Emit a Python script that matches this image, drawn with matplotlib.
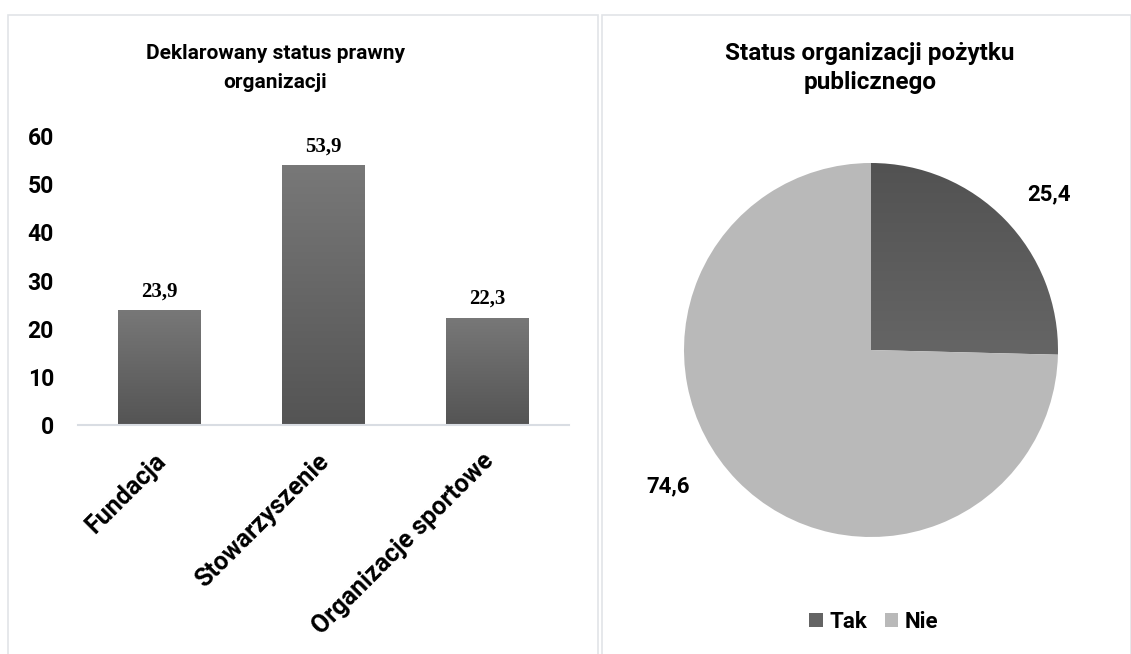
import numpy as np
import matplotlib
matplotlib.use("Agg")
import matplotlib.pyplot as plt
import matplotlib.transforms as mtransforms
from matplotlib.patches import Rectangle, Patch

plt.rcParams['font.family'] = ['Roboto', 'DejaVu Sans']

# data
bar_title = "Deklarowany status prawny\norganizacji"
bar_cats = ["Fundacja", "Stowarzyszenie", "Organizacje sportowe"]
bar_vals = [23.9, 53.9, 22.3]

pie_title = "Status organizacji pożytku\npublicznego"
pie_cats = ["Tak", "Nie"]
pie_vals = [25.4, 74.6]

W, H = 1131, 654
fig = plt.figure(figsize=(W / 100, H / 100), dpi=100)

# panel borders
for x0, x1 in [(8, 598), (602, 1131)]:
    fig.patches.append(Rectangle((x0 / W, -0.01), (x1 - x0) / W, (H - 15) / H + 0.01,
                                 transform=fig.transFigure, fill=False,
                                 edgecolor='#e1e4e8', linewidth=1.2))

def fmt(v):
    return f"{v:.1f}".replace('.', ',')

grad = np.linspace(0, 1, 256).reshape(-1, 1)

# ---- bar chart
ax = fig.add_axes([77.5 / W, (H - 425) / H, 491.5 / W, 289 / H])
x = np.arange(len(bar_cats))
bars = ax.bar(x, bar_vals, width=0.506, color='none', edgecolor='none')
for b in bars:
    bx, by, bw, bh = b.get_x(), b.get_y(), b.get_width(), b.get_height()
    im = ax.imshow(grad, cmap=matplotlib.colors.LinearSegmentedColormap.from_list(
        'g', ['#545454', '#787878']), origin='lower', aspect='auto',
        extent=(bx, bx + bw, by, by + bh), zorder=2)
    im.set_clip_path(b)
    ax.text(bx + bw / 2, bh + 1.8, fmt(bh), ha='center', va='bottom',
            fontsize=15, fontweight='bold', family='Liberation Serif')
ax.set_xlim(-0.5, 2.5)
ax.set_ylim(0, 60)
ax.set_yticks(range(0, 61, 10))
ax.set_xticks(x)
ax.set_xticklabels([])
# rotated category labels, drawn as text so they can sit a bit left/up
lab_tr = ax.get_xaxis_transform() + mtransforms.ScaledTranslation(
    -6 / 100, -0.24, fig.dpi_scale_trans)
for xi, name in zip(x, bar_cats):
    ax.text(xi, 0, name, transform=lab_tr, rotation=45, ha='right', va='top',
            rotation_mode='anchor', fontsize=18, fontweight='bold')
for t in ax.get_yticklabels():
    t.set_fontsize(16.5)
    t.set_fontweight('bold')
ax.tick_params(axis='both', length=0)
ax.tick_params(axis='y', pad=17)
for s in ['top', 'right', 'left']:
    ax.spines[s].set_visible(False)
ax.spines['bottom'].set_color('#d9dde3')
ax.spines['bottom'].set_linewidth(1.5)
fig.text(275 / W, 1 - 68 / H, bar_title, ha='center', va='center',
         fontsize=15, fontweight='bold', linespacing=1.7)

# ---- pie chart
r = 187
pax = fig.add_axes([(871 - r) / W, (H - 350 - r) / H, 2 * r / W, 2 * r / H])
wedges, texts, autos = pax.pie(pie_vals, startangle=90, counterclock=False,
                               colors=['#646464', '#b9b9b9'],
                               autopct=lambda p: fmt(p), pctdistance=1.27,
                               textprops=dict(fontsize=16, fontweight='bold'))
pax.set_xlim(-1, 1)
pax.set_ylim(-1, 1)
# gradient on dark slice
w = wedges[0]
w.set_facecolor('none')
im = pax.imshow(grad[::-1], cmap=matplotlib.colors.LinearSegmentedColormap.from_list(
    'g2', ['#787878', '#525252']), origin='upper', aspect='auto',
    extent=(-1, 1, -1, 1), zorder=0)
im.set_clip_path(w)
autos[1].set_position((-1.085, -0.73))
autos[0].set_position((0.95, 0.83))
fig.text(870 / W, 1 - 68 / H, pie_title, ha='center', va='center',
         fontsize=17.5, fontweight='bold', linespacing=1.3)

handles = [Patch(facecolor='#646464'), Patch(facecolor='#b9b9b9')]
fig.legend(handles, pie_cats, loc='center', bbox_to_anchor=(874 / W, 1 - 622 / H),
           ncol=2, frameon=False, prop=dict(size=16, weight='bold'),
           handlelength=0.6, handleheight=0.6, handletextpad=0.3, columnspacing=0.8)

fig.savefig('out.png', dpi=100)
